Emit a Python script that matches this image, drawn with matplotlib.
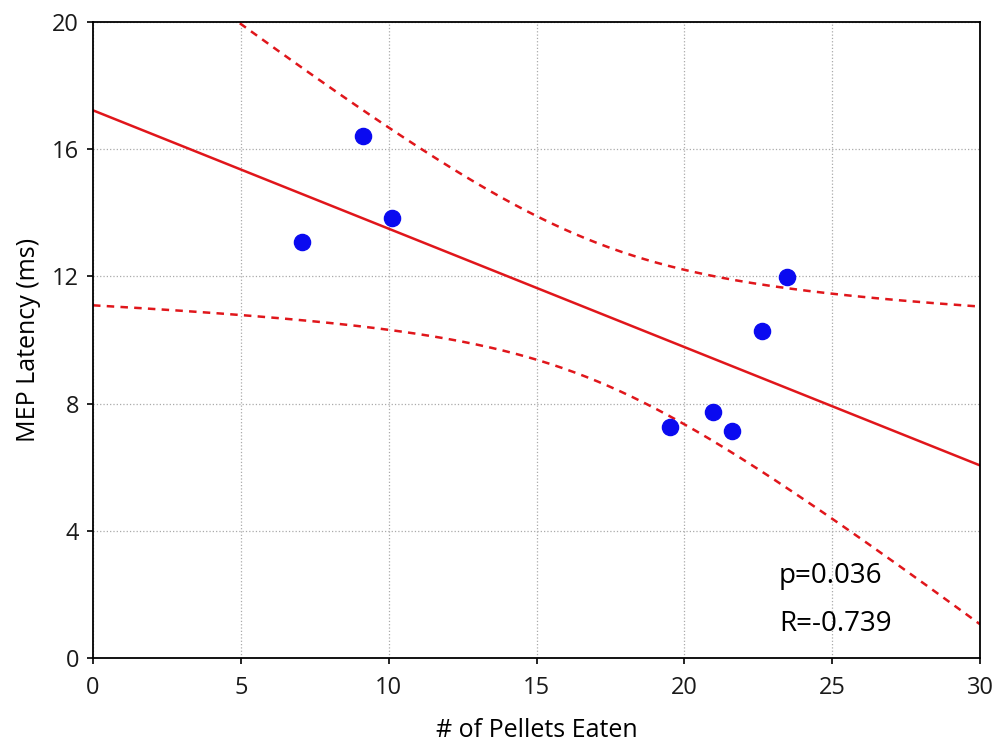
import numpy as np
import matplotlib.pyplot as plt

plt.rcParams['font.family'] = ['Open Sans', 'DejaVu Sans']

# data
pellets = [7.07, 9.13, 10.11, 19.51, 20.97, 21.61, 22.62, 23.47]
latency = [13.08, 16.42, 13.84, 7.26, 7.74, 7.14, 10.28, 11.98]
p_text = 'p=0.036'
r_text = 'R=-0.739'
x_ticks = [0, 5, 10, 15, 20, 25, 30]
y_ticks = [0, 4, 8, 12, 16, 20]

x = np.array(pellets)
y = np.array(latency)
n = len(x)

# linear fit with 95% confidence band
slope, intercept = np.polyfit(x, y, 1)
resid = y - (slope * x + intercept)
s = np.sqrt(np.sum(resid ** 2) / (n - 2))
t_val = 2.447  # t(0.975, df=6)
xs = np.linspace(0, 30, 300)
fit = slope * xs + intercept
se = s * np.sqrt(1 / n + (xs - x.mean()) ** 2 / np.sum((x - x.mean()) ** 2))
upper = fit + t_val * se
lower = fit - t_val * se

fig = plt.figure(figsize=(10, 7.47), dpi=100)
ax = fig.add_axes([0.093, 0.119, 0.887, 0.8515])

ax.plot(xs, fit, color='#e0161b', lw=1.8)
ax.plot(xs, upper, color='#e0161b', lw=1.8, ls=(0, (3, 2.5)))
ax.plot(xs, lower, color='#e0161b', lw=1.8, ls=(0, (3, 2.5)))
ax.scatter(x, y, s=135, color='#0a0af0', zorder=3)

ax.set_xlim(0, 30)
ax.set_ylim(0, 20)
ax.set_xticks(x_ticks)
ax.set_yticks(y_ticks)
ax.grid(True, ls=':', color='#aaaaaa', lw=0.9)
ax.tick_params(labelsize=17, length=4, width=1.2, color='black', labelcolor='#1a1a1a')
ax.tick_params(axis='x', pad=9)
ax.tick_params(axis='y', pad=6)
for sp in ax.spines.values():
    sp.set_linewidth(1.3)

ax.set_xlabel('# of Pellets Eaten', fontsize=18, labelpad=13)
ax.set_ylabel('MEP Latency (ms)', fontsize=18, labelpad=8)

ax.text(23.2, 2.36, p_text, fontsize=20)
ax.text(23.2, 0.85, r_text, fontsize=20)

fig.savefig('out.png', dpi=100)
